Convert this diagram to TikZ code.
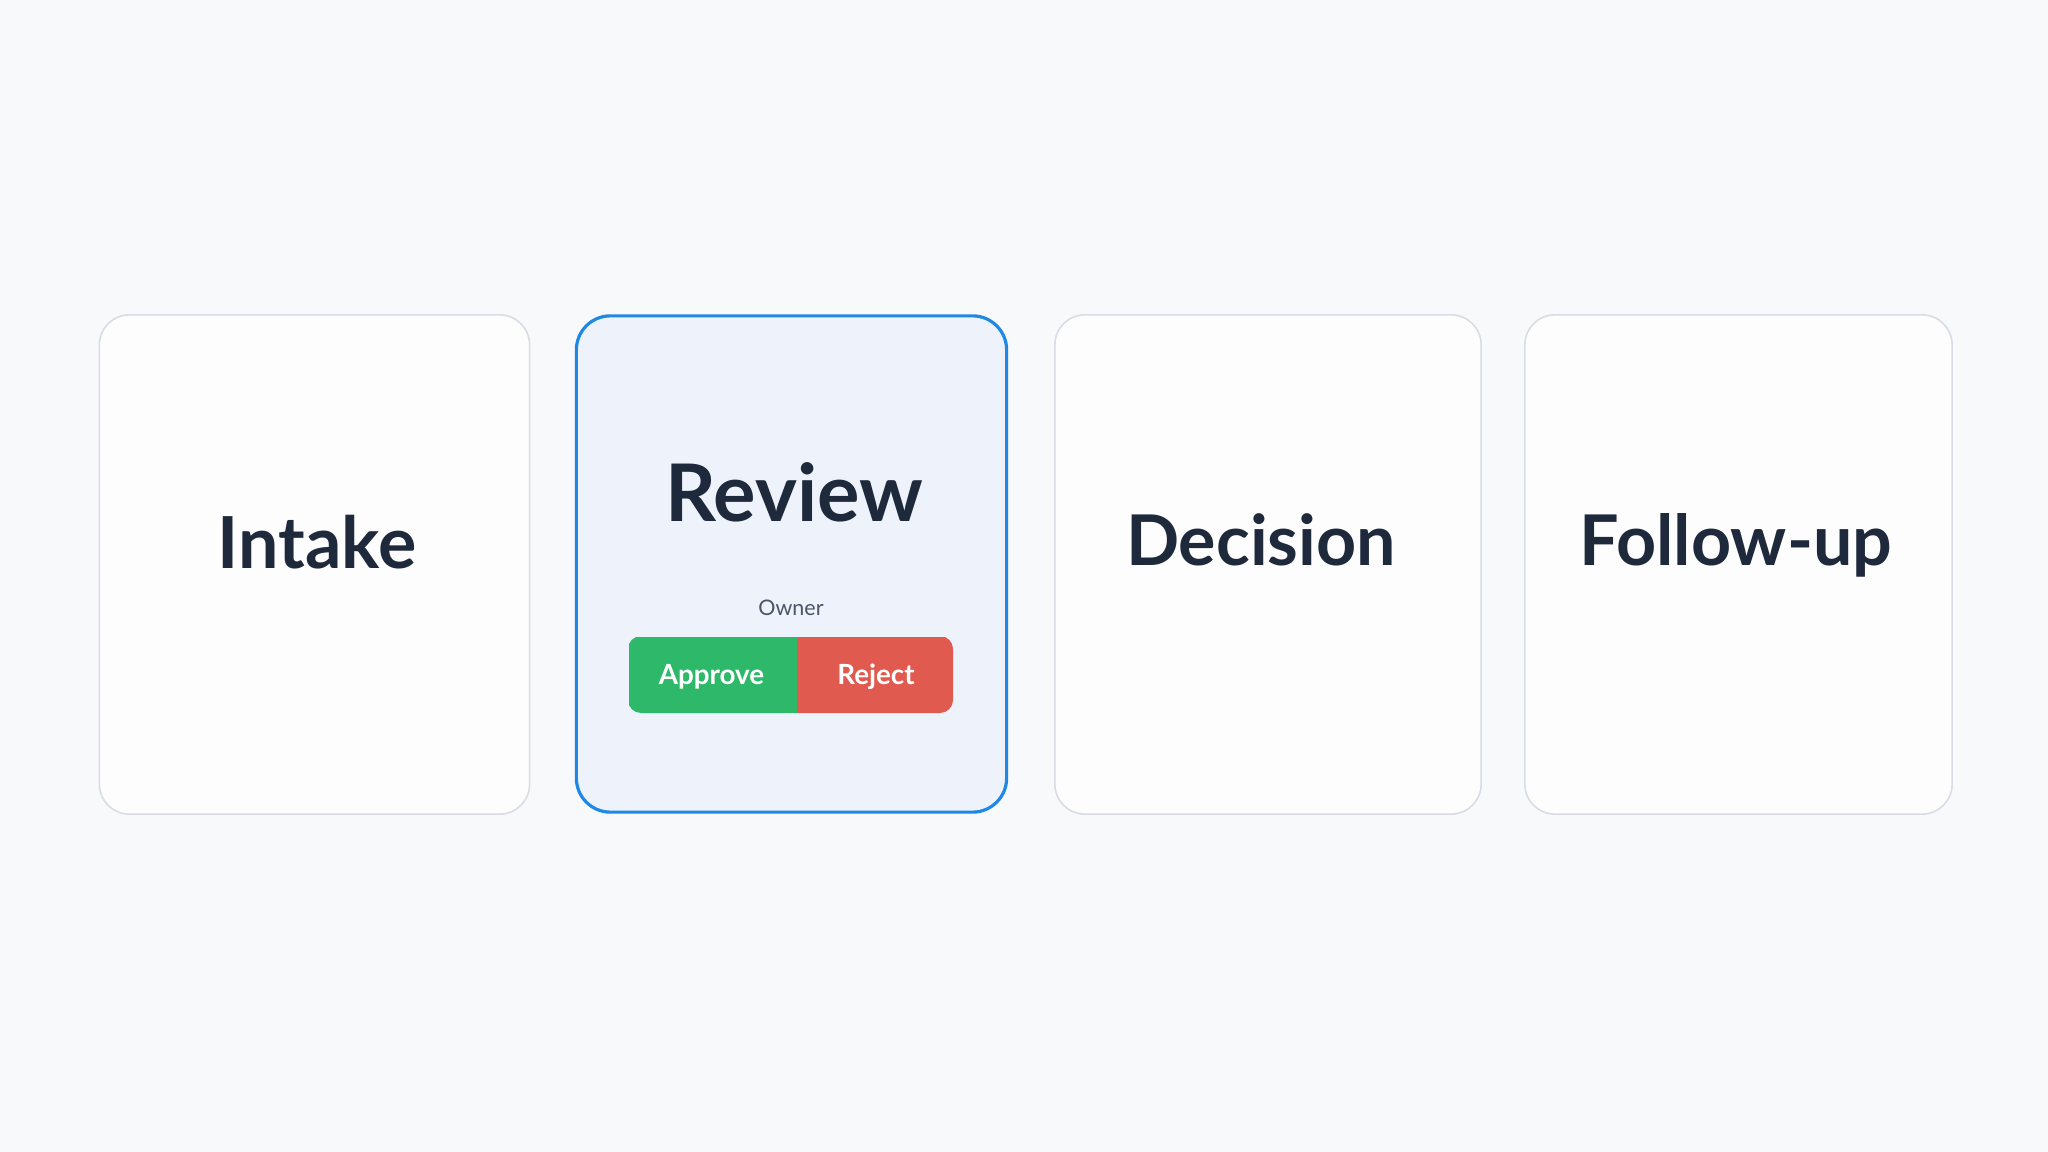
\documentclass[tikz,border=0pt]{standalone}
\usepackage{fontspec}
\setmainfont{Lato}
\usepackage{tikz}
\usetikzlibrary{positioning}

\begin{document}
\begin{tikzpicture}[
    x=0.01cm, y=-0.01cm,
    card/.style={
    	draw=my-line,
    	fill=my-card,
    	line width=0.45pt,
    	minimum width=4.3cm,
    	minimum height=4.99cm,
    	rounded corners=0.3cm, inner sep=0pt
    }, title/.style={
    	font=\bfseries\fontsize{19.9}{24}\selectfont,
    	text=my-ink, anchor=base, inner sep=0pt
    }, btn/.style={
    	minimum height=0.77cm,
    	inner sep=0pt, anchor=north west
    }, btntext/.style={
    	font=\bfseries\fontsize{7.9}{9}\selectfont,
    	text=white, anchor=base, inner sep=0pt
    }]
    \definecolor{my-bg}{HTML}{F8F9FB}
    \definecolor{my-card}{HTML}{FDFDFE}
    \definecolor{my-line}{HTML}{D9DCE4}
    \definecolor{my-ink}{HTML}{1E293B}
    \definecolor{my-blue}{HTML}{1E88E5}
    \definecolor{my-paleblue}{HTML}{EEF3FB}
    \definecolor{my-gray}{HTML}{4A5568}
    \definecolor{my-green}{HTML}{2EB86A}
    \definecolor{my-red}{HTML}{E05A50}

    \fill[my-bg] (0,0) rectangle (2048,1152);
    \useasboundingbox (0,0) rectangle (2048,1152);

    %%% CARDS
    \node[card] (card-1) at (314.5,564.5) {};
    \node[card, draw=my-blue, fill=my-paleblue, line width=0.9pt,
    	minimum height=4.96cm, rounded corners=0.34cm] (card-2) at (791.5,564) {};
    \node[card, minimum width=4.26cm] (card-3) at (1268,564.5) {};
    \node[card, minimum width=4.27cm] (card-4) at (1738.5,564.5) {};

    %%% TITLES
    \node[title, font=\bfseries\fontsize{20.4}{24}\selectfont] (title-1) at (317,568) {Intake};
    \node[title, font=\bfseries\fontsize{22.6}{27}\selectfont] (title-2) at (794,522) {Review};
    \node[title] (title-3) at (1261,565) {Decision};
    \node[title] (title-4) at (1736,565) {Follow-up};

    \node[anchor=base, inner sep=0pt, text=my-gray,
    	font=\fontsize{6.1}{7}\selectfont] (owner) at (791,616) {Owner};

    %%% BUTTONS
    \begin{scope}
    \clip[rounded corners=0.13cm] (628,636) rectangle (953,713);
    \node[btn, fill=my-green, minimum width=1.68cm] (approve) at (628,636) {};
    \node[btn, fill=my-red, minimum width=1.58cm] (reject) at ([xshift=-0.01cm]approve.north east) {};
    \end{scope}

    \node[btntext] (approve-text) at (711.5,684) {Approve};
    \node[btntext] (reject-text) at (876,684) {Reject};

\end{tikzpicture}
\end{document}
